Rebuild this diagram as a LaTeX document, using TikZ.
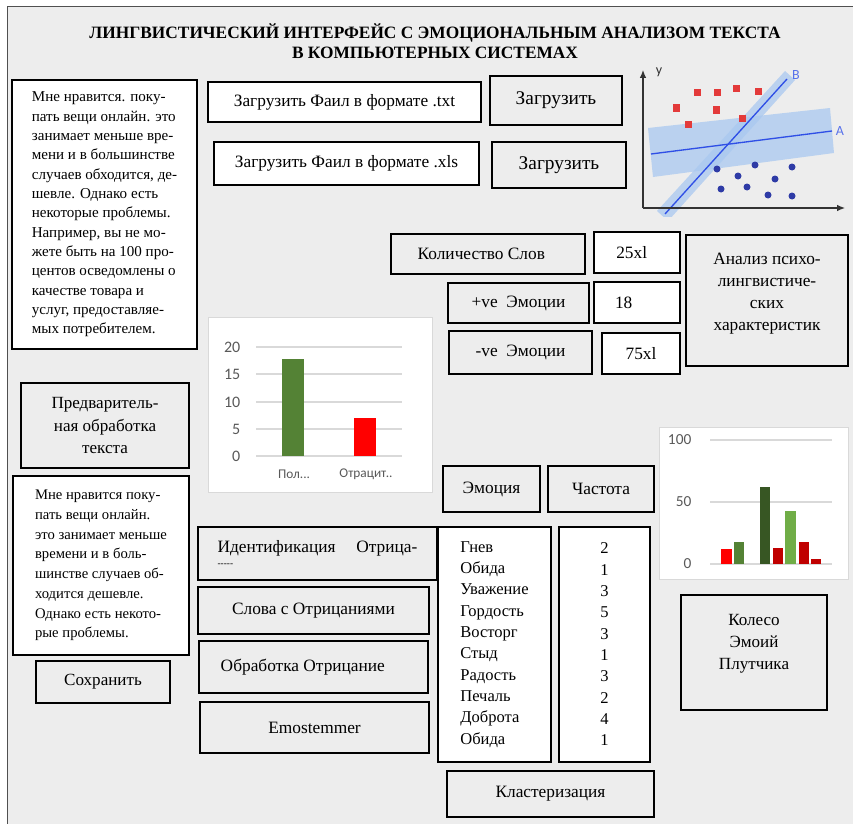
\documentclass[tikz,border=0pt]{standalone}
\usepackage{fontspec}
\setmainfont{Liberation Serif}
\newfontfamily\graf{Carlito}
\usetikzlibrary{arrows.meta}

\definecolor{fondo}{HTML}{EDEDED}
\definecolor{marco}{HTML}{505050}
\definecolor{rejilla}{HTML}{D9D9D9}
\definecolor{etiq}{HTML}{595959}
\definecolor{verde}{HTML}{548235}
\definecolor{verdeosc}{HTML}{375623}
\definecolor{verdeclaro}{HTML}{70AD47}
\definecolor{rojo}{HTML}{FF0000}
\definecolor{rojoosc}{HTML}{C00000}
\definecolor{azul}{HTML}{2F4FE6}
\definecolor{banda}{HTML}{A9C8F0}
\definecolor{puntos}{HTML}{2E3BA6}
\definecolor{cuadros}{HTML}{E33A3A}

\tikzset{
  tam/.style 2 args={minimum width=#1*0.75pt, minimum height=#2*0.75pt, inner sep=0pt},
  caja/.style={draw=black, line width=1.8pt, fill=fondo, font=\fontsize{13}{17}\selectfont},
  blanca/.style={caja, fill=white},
  ejegraf/.style={font=\graf\fontsize{12}{14}\selectfont, text=etiq},
}

\begin{document}
\begin{tikzpicture}[x=0.75pt, y=-0.75pt]
  \useasboundingbox (0,0) rectangle (853,824);
  % Fondo
  \fill[fondo] (7,6) rectangle (853,824);
  \draw[marco] (7,824) -- (7,6) -- (853,6);

  % Titulo
  \node[font=\bfseries\fontsize{13}{15}\selectfont, align=center] (titulo) at (435,41)
    {ЛИНГВИСТИЧЕСКИЙ ИНТЕРФЕЙС С ЭМОЦИОНАЛЬНЫМ АНАЛИЗОМ ТЕКСТА\\В КОМПЬЮТЕРНЫХ СИСТЕМАХ};

  % Texto original
  \node[blanca, tam={185}{269}, align=left, font=\fontsize{11.3}{14.5}\selectfont] (texto1) at (104.5,214.5)
    {Мне нравится. поку-\\пать вещи онлайн. это\\занимает меньше вре-\\мени и в большинстве\\случаев обходится, де-\\шевле. Однако есть\\некоторые проблемы.\\Например, вы не мо-\\жете быть на 100 про-\\центов осведомлены о\\качестве товара и\\услуг, предоставляе-\\мых потребителем.};

  % Carga de archivos
  \node[blanca, tam={273}{40}] (txt) at (344.5,102) {Загрузить Фаил в формате .txt};
  \node[caja, tam={132}{49}, font=\fontsize{14.5}{17}\selectfont] (cargar1) at (556,100.5) {Загрузить};
  \node[blanca, tam={265}{43}] (xls) at (346.5,163.5) {Загрузить Фаил в формате .xls};
  \node[caja, tam={134}{46}, font=\fontsize{14.5}{17}\selectfont] (cargar2) at (559,165) {Загрузить};

  % Grafico de dispersion
  \begin{scope}
    \clip (638,60) rectangle (853,216);
    \fill[banda, opacity=.75] (648,128) -- (830,108) -- (834,153) -- (653,177) -- cycle;
    \fill[banda, opacity=.75] (657,211) -- (785,71) -- (795,80) -- (668,221) -- cycle;
    \draw[azul, line width=1pt] (651,154) -- (832,131);
    \draw[azul, line width=1pt] (665,214) -- (787,79);
    \foreach \x/\y in {697/93, 717/93, 736/89, 758/92, 676/108, 716/110, 688/124, 742/118}
      \fill[cuadros] (\x-3.5,\y-3.5) rectangle ++(7,7);
    \foreach \x/\y in {717/169, 738/176, 755/165, 775/179, 792/167, 721/189, 747/187, 768/195, 792/196}
      \fill[puntos] (\x,\y) circle (3.5);
  \end{scope}
  \coordinate (origen) at (643,208);
  \coordinate (ejey) at (643,70);
  \coordinate (ejex) at (845,208);
  \draw[black!80, line width=0.9pt, -{Latex[length=6pt,width=5pt]}] (origen) -- (ejey);
  \draw[black!80, line width=0.9pt, -{Latex[length=6pt,width=5pt]}] (origen) -- (ejex);
  \node[font=\graf\fontsize{10.5}{12}\selectfont, text=black!80] (ly) at (659,72) {y};
  \node[font=\graf\fontsize{10.5}{12}\selectfont, text=azul!80] (la) at (840,131) {A};
  \node[font=\graf\fontsize{10.5}{12}\selectfont, text=azul!80] (lb) at (796,75) {B};

  % Conteo de palabras
  \node[caja, tam={194}{40}] (palabras) at (488,254) {\hspace*{-10pt}Количество Слов};
  \node[blanca, tam={86}{41}] (n25) at (637,252.5) {\hspace*{-8pt}25xl};
  \node[caja, tam={141}{40}] (pos) at (518.5,303) {+ve\ \ Эмоции};
  \node[blanca, tam={86}{41}] (n18) at (637,302.5) {\hspace*{-20pt}18};
  \node[caja, tam={143}{43}] (neg) at (520.5,352.5) {-ve\ \ Эмоции};
  \node[blanca, tam={78}{41}] (n75) at (641,353.5) {75xl};
  \node[caja, tam={162}{131}, align=center, font=\fontsize{13}{16.3}\selectfont] (analisis) at (767,300.5)
    {Анализ психо-\\лингвистиче-\\ских\\характеристик\\[-8pt]\strut};

  % Grafico de barras 1
  \draw[rejilla, fill=white] (208,317) rectangle (432,492);
  \foreach \v/\y in {0/456, 5/429, 10/402, 15/374, 20/347} {
    \draw[rejilla, line width=0.8pt] (256,\y) -- (402,\y);
    \node[ejegraf, anchor=east] at (245,\y) {\v};
  }
  \fill[verde] (282,456) rectangle (304,359);
  \fill[rojo] (354,456) rectangle (376,418);
  \node[ejegraf, font=\graf\fontsize{10}{11}\selectfont] (cat1) at (294,474) {Пол...};
  \node[ejegraf, font=\graf\fontsize{10}{11}\selectfont] (cat2) at (366,474) {Отрацит..};

  % Preprocesamiento
  \node[caja, tam={168}{85}, align=center, font=\fontsize{12.8}{17}\selectfont] (prep) at (105,425.5)
    {Предваритель-\\ная обработка\\текста};
  \node[blanca, tam={176}{179}, align=left, font=\fontsize{11}{14.8}\selectfont] (texto2) at (101,565.5)
    {Мне нравится поку-\\пать вещи онлайн.\\это занимает меньше\\времени и в боль-\\шинстве случаев об-\\ходится дешевле.\\Однако есть некото-\\рые проблемы.};
  \node[caja, tam={134}{42}, font=\fontsize{12.8}{16}\selectfont] (guardar) at (103,682) {Сохранить};

  % Negaciones
  \node[caja, tam={239}{53}, align=left] (ident) at (317.5,553.5)
    {Идентификация\hspace{1.2em}Отрица-\\[-6pt]{\scriptsize -{}-{}-{}-{}-}};
  \node[caja, tam={231}{47}] (slova) at (313.5,610.5) {Слова с Отрицаниями};
  \node[caja, tam={229}{52}] (obrab) at (313.5,667) {\hspace*{-16pt}Обработка Отрицание};
  \node[caja, tam={229}{51}] (emost) at (314.5,727.5) {Emostemmer};

  % Tabla de emociones
  \node[caja, tam={97}{46}] (emocion) at (491.5,489) {Эмоция};
  \node[caja, tam={106}{46}] (frec) at (601,489) {Частота};
  \node[blanca, tam={113}{235}, align=left, font=\fontsize{12.4}{16}\selectfont] (lista) at (494.5,644.5)
    {Гнев\\Обида\\Уважение\\Гордость\\Восторг\\Стыд\\Радость\\Печаль\\Доброта\\Обида};
  \node[blanca, tam={91}{235}, align=center, font=\fontsize{12.4}{16}\selectfont] (numeros) at (604.5,644.5)
    {2\\1\\3\\5\\3\\1\\3\\2\\4\\1};
  \node[caja, tam={207}{46}] (cluster) at (550.5,794) {Кластеризация};

  % Grafico de barras 2
  \draw[rejilla, fill=white] (659,427) rectangle (848,579);
  \foreach \v/\y in {0/564, 50/502, 100/440} {
    \draw[rejilla, line width=0.8pt] (710,\y) -- (832,\y);
    \node[ejegraf, font=\graf\fontsize{11.5}{13}\selectfont, anchor=east] at (696,\y) {\v};
  }
  \foreach \a/\b/\t/\c in {721/732/549/rojo, 734/744/542/verde, 760/770/487/verdeosc,
      773/783/548/rojoosc, 785/796/511/verdeclaro, 799/809/542/rojoosc, 811/821/559/rojoosc}
    \fill[\c] (\a,564) rectangle (\b,\t);

  % Rueda de Plutchik
  \node[caja, tam={146}{115}, align=center, font=\fontsize{12.8}{16.5}\selectfont] (koleso) at (754,652.5)
    {Колесо\\Эмоий\\Плутчика\\[-6pt]\strut};
\end{tikzpicture}
\end{document}
